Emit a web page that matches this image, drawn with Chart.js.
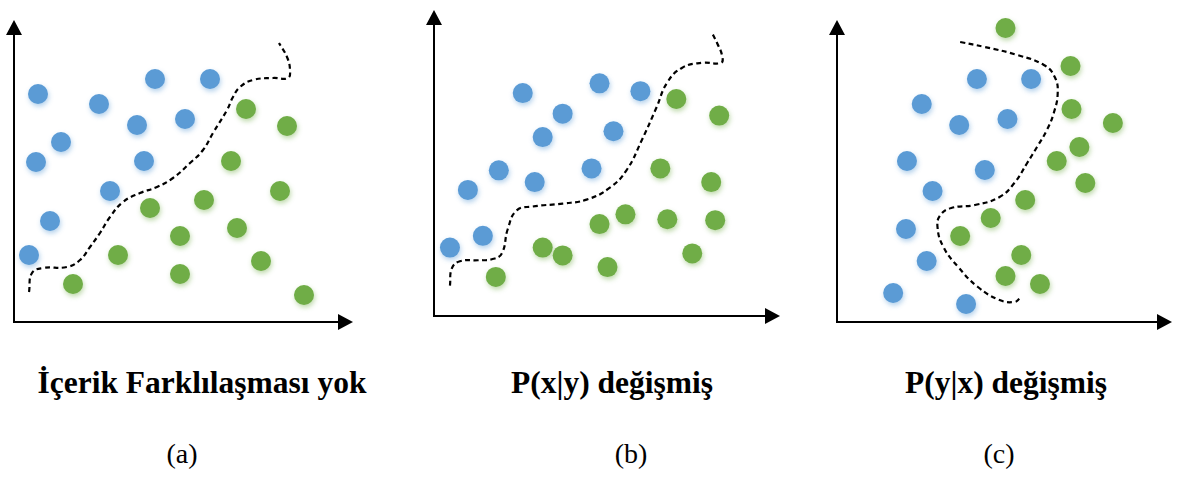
<!DOCTYPE html>
<html lang="tr">
<head>
<meta charset="utf-8">
<title>Kavram kayması türleri</title>
<script src="https://cdn.jsdelivr.net/npm/chart.js@4.4.1/dist/chart.umd.min.js"></script>
<style>
  html, body { margin: 0; padding: 0; background: #ffffff; }
  body { position: relative; width: 1182px; height: 477px; overflow: hidden; }
  canvas { position: absolute; }
  .title, .tag {
    position: absolute; text-align: center; white-space: nowrap; color: #000;
    font-family: "Liberation Serif", "Times New Roman", "DejaVu Serif", serif;
  }
  .title { font-weight: 700; font-size: 31.5px; line-height: 31.5px; width: 400px; }
  .tag { font-weight: 400; font-size: 28px; line-height: 28px; width: 120px; }
</style>
</head>
<body>
<script>
// Panel (a): no concept drift
const aBlue = [[24,228],[141,243],[196,243],[85,218],[123,197],[171,203],[47,180],[22,160],[130,161],[96,131],[36,101],[15,67]];
const aGreen = [[232,213],[273,196],[217,161],[266,131],[190,122],[136,114],[223,94],[166,86],[104,67],[247,61],[166,48],[59,38],[290,27]];
const aBoundary = [[15,30],[18,49],[29,54],[53,55],[66,62],[76,75],[86,89],[96,105],[109,120],[126,129],[143,135],[159,144],[176,159],[189,172],[199,189],[213,212],[219,225],[226,235],[239,242],[259,244],[274,244],[276,252],[273,265],[265,279]];

// Panel (b): P(x|y) changed
const bBlue = [[89,228],[166,238],[207,230],[129,207],[109,183],[180,189],[65,149],[158,151],[101,137],[34,129],[49,82],[16,70]];
const bGreen = [[243,222],[286,205],[227,151],[278,137],[192,104],[166,94],[234,99],[282,98],[109,70],[129,62],[259,64],[174,50],[62,40]];
const bBoundary = [[16,31],[18,49],[26,56],[44,57],[58,58],[68,64],[74,89],[83,108],[99,112],[129,115],[153,119],[176,131],[193,149],[208,179],[223,213],[234,239],[249,254],[269,259],[288,259],[289,266],[284,279],[278,291]];

// Panel (c): P(y|x) changed
const cBlue = [[142,243],[197,243],[86,218],[124,197],[173,203],[71,161],[150,152],[97,131],[70,93],[91,61],[57,29],[131,18]];
const cGreen = [[171,294],[237,256],[238,213],[280,199],[246,175],[223,161],[252,139],[191,122],[156,104],[125,86],[187,67],[171,46],[206,38]];
const cBoundary = [[125,280],[150,275],[183,267],[210,257],[221,245],[224,229],[220,209],[213,192],[203,175],[193,159],[180,139],[165,125],[140,117],[116,114],[105,107],[102,95],[108,75],[123,55],[143,35],[165,22],[180,20],[186,24]];

// Axis extents of each panel (x length, y length)
const axisLengths = [[339, 302], [347, 313], [340, 302]];

const titles = ['İçerik Farklılaşması yok', 'P(x|y) değişmiş', 'P(y|x) değişmiş'];
const tags = ['(a)', '(b)', '(c)'];

const BLUE = '#5B9BD5';
const GREEN = '#70AD47';

// Canvas placement and plot-area padding for each panel
const frames = [
  { left: 0,   top: 0, width: 370, height: 340, pad: { left: 14, top: 20, right: 17, bottom: 18 } },
  { left: 420, top: 0, width: 370, height: 340, pad: { left: 14, top: 3,  right: 9,  bottom: 24 } },
  { left: 820, top: 0, width: 362, height: 340, pad: { left: 17, top: 20, right: 5,  bottom: 18 } }
];
const titleCenters = [202, 612, 1006];
const tagCenters = [182, 631, 999];

const toPts = arr => arr.map(([x, y]) => ({ x, y }));

// Draws both axes with filled arrow heads, following the chart area
const arrowAxes = {
  id: 'arrowAxes',
  beforeDatasetsDraw(chart) {
    const { ctx, chartArea: { left, top, right, bottom } } = chart;
    const head = 15, half = 8;
    ctx.save();
    ctx.strokeStyle = '#000';
    ctx.fillStyle = '#000';
    ctx.lineWidth = 2;
    ctx.beginPath();
    ctx.moveTo(left, bottom);
    ctx.lineTo(left, top + head - 1);
    ctx.moveTo(left - 1, bottom);
    ctx.lineTo(right - head + 1, bottom);
    ctx.stroke();
    ctx.beginPath();
    ctx.moveTo(left, top);
    ctx.lineTo(left - half, top + head);
    ctx.lineTo(left + half, top + head);
    ctx.closePath();
    ctx.fill();
    ctx.beginPath();
    ctx.moveTo(right, bottom);
    ctx.lineTo(right - head, bottom - half);
    ctx.lineTo(right - head, bottom + half);
    ctx.closePath();
    ctx.fill();
    ctx.restore();
  }
};

// Soft drop shadow under the scatter markers
const markerShadow = {
  id: 'markerShadow',
  beforeDatasetDraw(chart, args) {
    const ds = chart.data.datasets[args.index];
    if (ds.type !== 'scatter') return;
    const ctx = chart.ctx;
    ctx.save();
    ctx.shadowColor = ds.shadow;
    ctx.shadowBlur = 5;
    ctx.shadowOffsetX = 1;
    ctx.shadowOffsetY = 2.5;
  },
  afterDatasetDraw(chart, args) {
    const ds = chart.data.datasets[args.index];
    if (ds.type !== 'scatter') return;
    chart.ctx.restore();
  }
};

const panels = [
  [aBlue, aGreen, aBoundary],
  [bBlue, bGreen, bBoundary],
  [cBlue, cGreen, cBoundary]
];

panels.forEach(([blue, green, boundary], i) => {
  const f = frames[i];
  const canvas = document.createElement('canvas');
  canvas.style.left = f.left + 'px';
  canvas.style.top = f.top + 'px';
  canvas.style.width = f.width + 'px';
  canvas.style.height = f.height + 'px';
  canvas.width = f.width;
  canvas.height = f.height;
  document.body.appendChild(canvas);

  new Chart(canvas, {
    data: {
      datasets: [
        {
          type: 'line', data: toPts(boundary), borderColor: '#000', borderWidth: 2.2,
          borderDash: [5, 3.5], tension: 0.45, pointRadius: 0, fill: false, clip: false, order: 0
        },
        {
          type: 'scatter', data: toPts(blue), backgroundColor: BLUE, borderWidth: 0,
          pointRadius: 10, clip: false, shadow: 'rgba(91,155,213,0.45)', order: 2
        },
        {
          type: 'scatter', data: toPts(green), backgroundColor: GREEN, borderWidth: 0,
          pointRadius: 10, clip: false, shadow: 'rgba(112,173,71,0.45)', order: 1
        }
      ]
    },
    options: {
      responsive: false,
      animation: false,
      events: [],
      layout: { padding: f.pad },
      plugins: { legend: { display: false }, tooltip: { enabled: false }, title: { display: false } },
      scales: {
        x: { type: 'linear', min: 0, max: axisLengths[i][0], display: false },
        y: { type: 'linear', min: 0, max: axisLengths[i][1], display: false }
      }
    },
    plugins: [arrowAxes, markerShadow]
  });

  const t = document.createElement('div');
  t.className = 'title';
  t.textContent = titles[i];
  t.style.left = (titleCenters[i] - 200) + 'px';
  t.style.top = '367px';
  document.body.appendChild(t);

  const g = document.createElement('div');
  g.className = 'tag';
  g.textContent = tags[i];
  g.style.left = (tagCenters[i] - 60) + 'px';
  g.style.top = '440px';
  document.body.appendChild(g);
});
</script>
</body>
</html>
